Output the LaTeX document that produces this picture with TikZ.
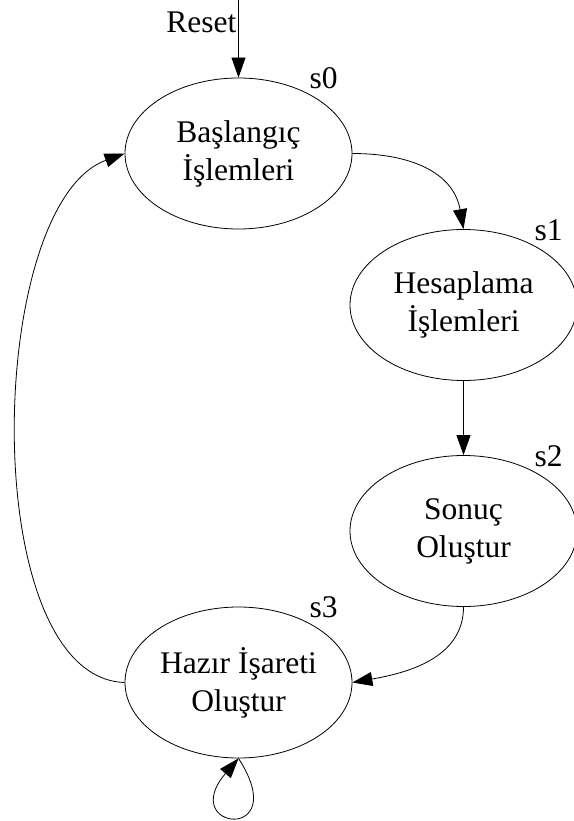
\documentclass[tikz,border=0pt]{standalone}
\usepackage{fontspec}
\setmainfont{Liberation Serif}
\usetikzlibrary{shapes.geometric, arrows.meta, calc}

\begin{document}
\begin{tikzpicture}[x=1pt, y=-1pt,
    every node/.style={font=\fontsize{31.5}{38}\selectfont},
    stnode/.style={draw, ellipse, line width=0.8pt, minimum width=227pt, minimum height=151pt, inner sep=0pt, align=center},
    stlbl/.style={anchor=base, inner sep=0pt},
    conn/.style={line width=0.8pt, -{Triangle[length=20pt, width=14pt]}}]
    \useasboundingbox (0,0) rectangle (573,821);

    % States
    \node[stnode] (s0) at (238.5,153.5) {Başlangıç\\İşlemleri};
    \node[stnode] (s1) at (463.5,305) {Hesaplama\\İşlemleri};
    \node[stnode] (s2) at (463.5,531) {Sonuç\\Oluştur};
    \node[stnode] (s3) at (238.5,682.5) {Hazır İşareti\\Oluştur};

    % State labels
    \node[stlbl] (s0l) at ($(s0.center)+(85,-65)$) {s0};
    \node[stlbl] (s1l) at ($(s1.center)+(85,-65)$) {s1};
    \node[stlbl] (s2l) at ($(s2.center)+(85,-65)$) {s2};
    \node[stlbl] (s3l) at ($(s3.center)+(85,-65)$) {s3};

    % Reset input
    \coordinate (rst) at (238.5,0);
    \node[anchor=base east, inner sep=0pt] (rstl) at ($(rst)+(-2,33)$) {Reset};
    \draw[conn] (rst) -- (s0.north);

    % Transitions
    \draw[conn] (s0.east) to[out=0, in=100, looseness=1.1] (s1.north);
    \draw[conn] (s1.south) -- (s2.north);
    \draw[conn] (s2.south) to[out=-90, in=10] (s3.east);
    \draw[conn] (s3.west) to[out=178, in=200, looseness=0.72] (s0.west);
    \draw[conn] (s3.south) .. controls +(55,85) and +(-62,72) .. (s3.south);
\end{tikzpicture}
\end{document}
